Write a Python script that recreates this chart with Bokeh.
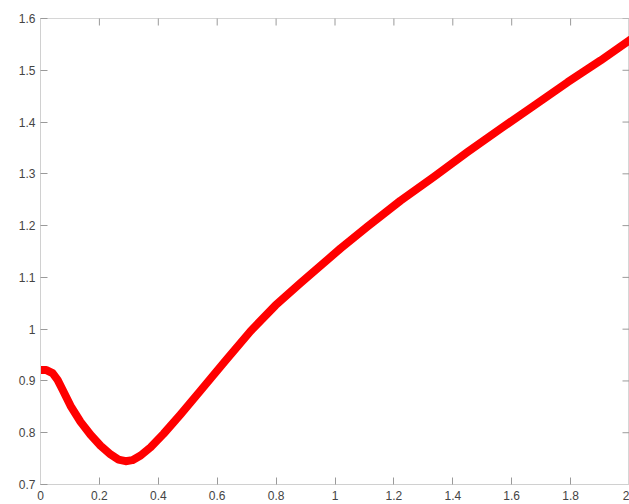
import math
from bokeh.plotting import figure
from bokeh.models import LinearAxis, FixedTicker, Range1d
from bokeh.embed import file_html
from bokeh.resources import INLINE

# data
x_vals = [0.000, 0.020, 0.041, 0.058, 0.075, 0.102, 0.136, 0.170, 0.204, 0.238, 0.265,
          0.289, 0.312, 0.340, 0.374, 0.418, 0.475, 0.543, 0.628, 0.713, 0.798, 0.883,
          1.019, 1.110, 1.222, 1.335, 1.450, 1.562, 1.674, 1.790, 1.902, 2.000]
y_vals = [0.921, 0.921, 0.915, 0.902, 0.883, 0.852, 0.821, 0.796, 0.775, 0.758, 0.748,
          0.745, 0.747, 0.756, 0.772, 0.798, 0.835, 0.881, 0.939, 0.996, 1.046, 1.089,
          1.156, 1.198, 1.248, 1.294, 1.342, 1.387, 1.431, 1.477, 1.519, 1.558]

x_ticks = [0.0, 0.2, 0.4, 0.6, 0.8, 1.0, 1.2, 1.4, 1.6, 1.8, 2.0]
x_tick_labels = ["0", "0.2", "0.4", "0.6", "0.8", "1", "1.2", "1.4", "1.6", "1.8", "2"]
y_ticks = [0.7, 0.8, 0.9, 1.0, 1.1, 1.2, 1.3, 1.4, 1.5, 1.6]
y_tick_labels = ["0.7", "0.8", "0.9", "1", "1.1", "1.2", "1.3", "1.4", "1.5", "1.6"]

x_min, x_max = x_ticks[0], x_ticks[-1]
y_min, y_max = y_ticks[0], y_ticks[-1]

p = figure(width=629, height=502, output_backend="svg", toolbar_location=None,
           x_range=Range1d(x_min, x_max), y_range=Range1d(y_min, y_max),
           min_border_left=40, min_border_top=18, min_border_right=0, min_border_bottom=16,
           x_axis_location=None, y_axis_location=None)
p.xgrid.visible = False
p.ygrid.visible = False
p.outline_line_color = "#d6d6d6"
p.background_fill_color = "white"
p.border_fill_color = "white"

LABEL_FONT = "Liberation Sans"
TICK_COLOR = "#9a9a9a"

def style(ax, ticks, labels, standoff):
    ax.ticker = FixedTicker(ticks=ticks)
    ax.major_label_overrides = {t: l for t, l in zip(ticks, labels)}
    ax.axis_line_color = "#d0d0d0"
    ax.major_tick_line_color = TICK_COLOR
    ax.major_tick_in = 7
    ax.major_tick_out = 0
    ax.minor_tick_line_color = None
    ax.major_label_text_font = LABEL_FONT
    ax.major_label_text_font_size = "12px"
    ax.major_label_text_color = "#444444"
    ax.major_label_standoff = standoff

bottom = LinearAxis()
style(bottom, x_ticks, x_tick_labels, 6)
p.add_layout(bottom, "below")
left = LinearAxis()
style(left, y_ticks, y_tick_labels, 5)
p.add_layout(left, "left")

# mirrored tick marks on the top and right edges of the box (clipped to the frame)
p.scatter(x_ticks, [y_max] * len(x_ticks), marker="dash", angle=math.pi / 2, size=14,
          line_color=TICK_COLOR, line_width=1)
p.scatter([x_max] * len(y_ticks), y_ticks, marker="dash", size=14,
          line_color=TICK_COLOR, line_width=1)

p.line(x_vals, y_vals, line_color="#ff0000", line_width=8,
       line_join="round", line_cap="round")

open("out.html", "w").write(file_html(p, INLINE))
